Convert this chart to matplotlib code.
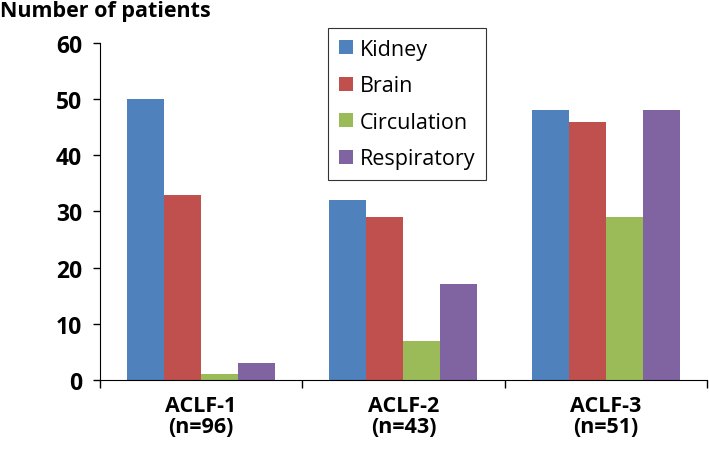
import matplotlib
matplotlib.use('Agg')
import matplotlib.pyplot as plt
import numpy as np

plt.rcParams['font.family'] = ['Open Sans', 'DejaVu Sans']

groups = ['ACLF-1\n(n=96)', 'ACLF-2\n(n=43)', 'ACLF-3\n(n=51)']
organs = ['Kidney', 'Brain', 'Circulation', 'Respiratory']
kidney = [50, 32, 48]
brain = [33, 29, 46]
circulation = [1, 7, 29]
respiratory = [3, 17, 48]
colors = ['#4F81BD', '#C0504D', '#9BBB59', '#8064A2']

fig = plt.figure(figsize=(7.09, 4.52), dpi=100)
ax = fig.add_axes([0.141, 0.157, 0.856, 0.746])

x = np.arange(len(groups))
width = 0.183
series = [kidney, brain, circulation, respiratory]
for i, (vals, name) in enumerate(zip(series, organs)):
    ax.bar(x + (i - 1.5) * width, vals, width, color=colors[i], label=name)

ax.set_xlim(-0.5, 2.5)
ax.set_ylim(0, 60)
ax.set_yticks(range(0, 61, 10))
ax.tick_params(axis='y', labelsize=16.5, length=5, width=1, direction='out', pad=8)
for t in ax.get_yticklabels():
    t.set_fontweight('bold')

# category labels between boundary ticks
ax.set_xticks([-0.5, 0.5, 1.5, 2.5])
ax.set_xticklabels([])
ax.set_xticks(x, minor=True)
ax.set_xticklabels(groups, minor=True, fontsize=15.5, fontweight='bold', linespacing=1.0)
ax.tick_params(axis='x', which='major', length=6, width=1, direction='out')
ax.tick_params(axis='x', which='minor', length=0, pad=11)

ax.spines['top'].set_visible(False)
ax.spines['right'].set_visible(False)

fig.text(0.0, 0.998, 'Number of patients', fontsize=15.5, fontweight='bold', va='top', ha='left')

leg = fig.legend(loc='upper left', bbox_to_anchor=(0.463, 0.936), borderaxespad=0,
                 fontsize=15.5, frameon=True, fancybox=False, handlelength=0.63,
                 handleheight=0.63, handletextpad=0.35, labelspacing=0.72,
                 borderpad=0.5)
leg.get_frame().set_edgecolor('black')
leg.get_frame().set_linewidth(0.8)

plt.savefig('out.png', dpi=100)
